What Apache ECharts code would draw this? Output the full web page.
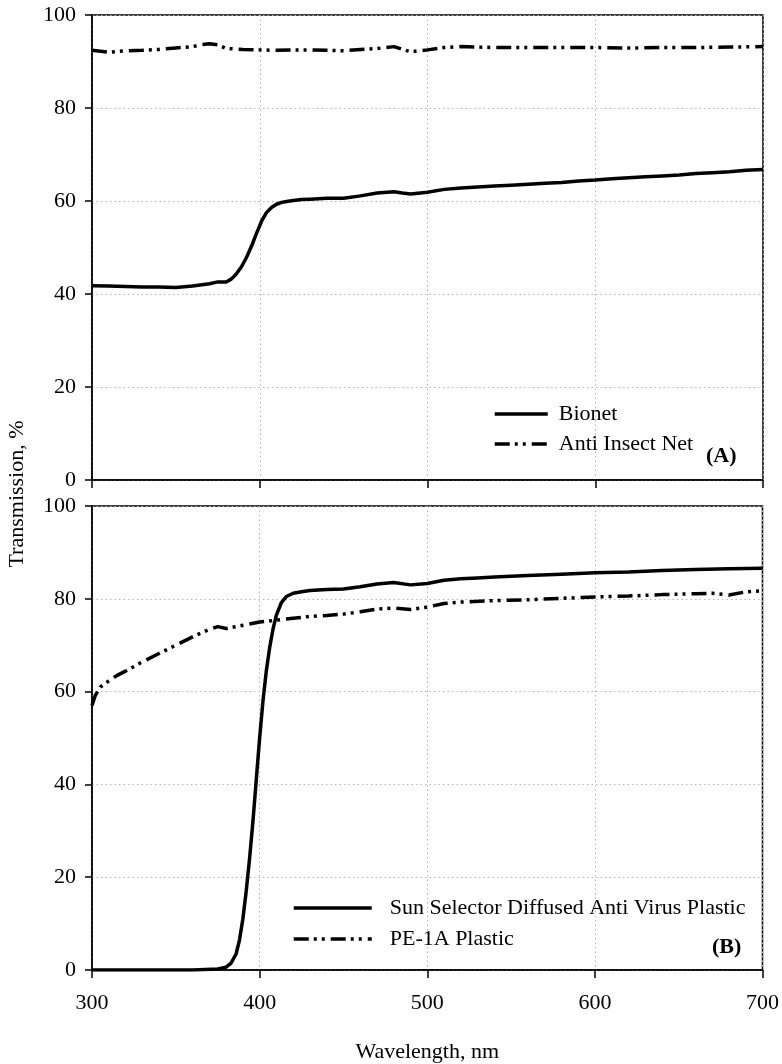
<!DOCTYPE html>
<html>
<head>
<meta charset="utf-8">
<script src="https://cdn.jsdelivr.net/npm/echarts@6/dist/echarts.min.js"></script>
<style>
html,body{margin:0;padding:0;background:#fff;}
#c{width:782px;height:1064px;}
</style>
</head>
<body>
<div id="c"></div>
<script>
// ---- Data ----
const xTicks = [300, 400, 500, 600, 700];
const yTicks = [0, 20, 40, 60, 80, 100];

// Panel A
const bionetX = [300,310,320,330,340,350,360,370,375,380,383,386,389,392,395,398,401,404,407,410,413,416,420,425,430,440,450,460,470,480,485,490,500,510,520,530,540,550,560,570,580,590,600,610,620,630,640,650,660,670,680,690,700];
const bionetY = [41.8,41.7,41.6,41.5,41.5,41.4,41.7,42.2,42.6,42.6,43.2,44.3,45.8,47.8,50.2,53.0,55.6,57.5,58.6,59.3,59.7,59.9,60.1,60.3,60.4,60.6,60.6,61.1,61.7,62.0,61.7,61.5,61.9,62.5,62.8,63.0,63.2,63.4,63.6,63.8,64.0,64.3,64.5,64.8,65.0,65.2,65.4,65.6,65.9,66.1,66.3,66.6,66.8];

const insectX = [300,310,320,330,340,350,360,365,370,375,380,390,400,410,420,430,440,450,460,470,480,485,490,500,510,520,530,540,560,580,600,620,640,660,680,700];
const insectY = [92.4,92.0,92.3,92.4,92.6,92.9,93.2,93.6,93.8,93.6,92.8,92.6,92.5,92.4,92.5,92.5,92.4,92.3,92.6,92.8,93.2,92.6,92.1,92.5,93.0,93.2,93.1,93.0,93.0,93.0,93.0,92.9,93.0,93.0,93.1,93.2];

// Panel B
const sunX = [300,320,340,360,375,380,383,386,388,390,392,394,396,398,400,402,404,406,408,410,413,416,420,425,430,440,450,460,470,480,490,500,510,520,530,540,560,580,600,620,640,660,680,700];
const sunY = [0,0,0,0,0.2,0.6,1.5,3.5,6.5,11,17,24,32,41,50,58,64.5,69.5,73.5,76.5,79.2,80.5,81.2,81.5,81.8,82.0,82.1,82.6,83.2,83.5,83.0,83.3,84.0,84.3,84.5,84.7,85.0,85.3,85.6,85.8,86.1,86.3,86.5,86.6];

const peX = [300,302,305,310,315,320,330,340,350,360,370,375,380,390,400,410,420,430,440,450,460,470,480,490,500,510,520,540,560,580,600,620,640,660,670,680,690,700];
const peY = [57.0,59.2,61.0,62.3,63.5,64.4,66.4,68.2,70.0,71.8,73.4,74.0,73.6,74.3,75.0,75.4,75.8,76.2,76.4,76.7,77.2,77.8,78.0,77.7,78.2,79.0,79.3,79.6,79.8,80.1,80.4,80.6,80.9,81.1,81.2,80.8,81.5,81.7];

const legendA = ["Bionet", "Anti Insect Net"];
const legendB = ["Sun Selector Diffused Anti Virus Plastic", "PE-1A Plastic"];
const panelTags = ["(A)", "(B)"];
const xName = "Wavelength, nm";
const yName = "Transmission, %";

// ---- Chart ----
const FONT = "'Liberation Serif', 'DejaVu Serif', serif";
const pairs = (xs, ys) => xs.map((x, i) => [x, ys[i]]);
const dashDotDot = [15, 5, 3, 5, 3, 6];

function xAxis(idx, showLabels) {
  return {
    type: 'value', gridIndex: idx, min: xTicks[0], max: xTicks[xTicks.length-1], interval: 100,
    axisLine: {show: true, onZero: false, lineStyle: {color: '#000', width: 1.5}},
    axisTick: {show: true, inside: false, length: 8, lineStyle: {color: '#000', width: 1.5}},
    axisLabel: {show: showLabels, color: '#000', fontFamily: FONT, fontSize: 22, margin: 22},
    splitLine: {show: true, lineStyle: {color: '#b5b5b5', type: [1.5, 3], width: 1}},
    name: showLabels ? xName : '', nameLocation: 'middle', nameGap: 71,
    nameTextStyle: {color: '#000', fontFamily: FONT, fontSize: 22}
  };
}
function yAxis(idx) {
  return {
    type: 'value', gridIndex: idx, min: yTicks[0], max: yTicks[yTicks.length-1], interval: 20,
    axisLine: {show: true, lineStyle: {color: '#000', width: 1.5}},
    axisTick: {show: true, inside: false, length: 7, lineStyle: {color: '#000', width: 1.5}},
    axisLabel: {color: '#000', fontFamily: FONT, fontSize: 22, margin: 16},
    splitLine: {show: true, lineStyle: {color: '#b5b5b5', type: [1.5, 3], width: 1}}
  };
}
const hiddenSymbol = {color: 'transparent', borderColor: 'transparent', borderWidth: 0, opacity: 0};

const chart = echarts.init(document.getElementById('c'), null, {renderer: 'canvas'});
chart.setOption({
  animation: false,
  backgroundColor: '#fff',
  grid: [
    {left: 92, top: 15, width: 671, height: 465, show: true, borderColor: '#000', borderWidth: 1.5, backgroundColor: 'transparent'},
    {left: 92, top: 506, width: 671, height: 467, show: true, borderColor: '#000', borderWidth: 1.5, backgroundColor: 'transparent'}
  ],
  xAxis: [xAxis(0, false), xAxis(1, true)],
  yAxis: [yAxis(0), yAxis(1)],
  legend: [
    {
      left: 493, top: 400, padding: 0, orient: 'vertical', itemWidth: 53, itemHeight: 14, itemGap: 2,
      textStyle: {color: '#000', fontFamily: FONT, fontSize: 22, lineHeight: 28, padding: [0, 0, 0, 6]},
      itemStyle: hiddenSymbol,
      data: [
        {name: legendA[0], lineStyle: {color: '#000', width: 3.5, type: 'solid'}},
        {name: legendA[1], lineStyle: {color: '#000', width: 3.5, type: dashDotDot}}
      ],
      selectedMode: false
    },
    {
      left: 292, top: 894, padding: 0, orient: 'vertical', itemWidth: 78, itemHeight: 14, itemGap: 3,
      textStyle: {color: '#000', fontFamily: FONT, fontSize: 22, lineHeight: 28, padding: [0, 0, 0, 13]},
      itemStyle: hiddenSymbol,
      data: [
        {name: legendB[0], lineStyle: {color: '#000', width: 3.5, type: 'solid'}},
        {name: legendB[1], lineStyle: {color: '#000', width: 3.5, type: dashDotDot}}
      ],
      selectedMode: false
    }
  ],
  graphic: [
    {type: 'text', left: 706, top: 445, style: {text: panelTags[0], font: "bold 22px " + FONT, fill: '#000'}},
    {type: 'text', left: 712, top: 936, style: {text: panelTags[1], font: "bold 22px " + FONT, fill: '#000'}},
    {type: 'text', x: 17, y: 494, rotation: Math.PI/2,
     style: {text: yName, font: "22px " + FONT, fill: '#000', textAlign: 'center', textVerticalAlign: 'middle'}}
  ],
  series: [
    {name: legendA[0], type: 'line', xAxisIndex: 0, yAxisIndex: 0, data: pairs(bionetX, bionetY),
     showSymbol: false, symbol: 'none', lineStyle: {color: '#000', width: 3.5}, itemStyle: {color: '#000'}},
    {name: legendA[1], type: 'line', xAxisIndex: 0, yAxisIndex: 0, data: pairs(insectX, insectY),
     showSymbol: false, symbol: 'none', lineStyle: {color: '#000', width: 3.5, type: dashDotDot}, itemStyle: {color: '#000'}},
    {name: legendB[0], type: 'line', xAxisIndex: 1, yAxisIndex: 1, data: pairs(sunX, sunY),
     showSymbol: false, symbol: 'none', lineStyle: {color: '#000', width: 3.5}, itemStyle: {color: '#000'}},
    {name: legendB[1], type: 'line', xAxisIndex: 1, yAxisIndex: 1, data: pairs(peX, peY),
     showSymbol: false, symbol: 'none', lineStyle: {color: '#000', width: 3.5, type: dashDotDot}, itemStyle: {color: '#000'}}
  ]
});
</script>
</body>
</html>
